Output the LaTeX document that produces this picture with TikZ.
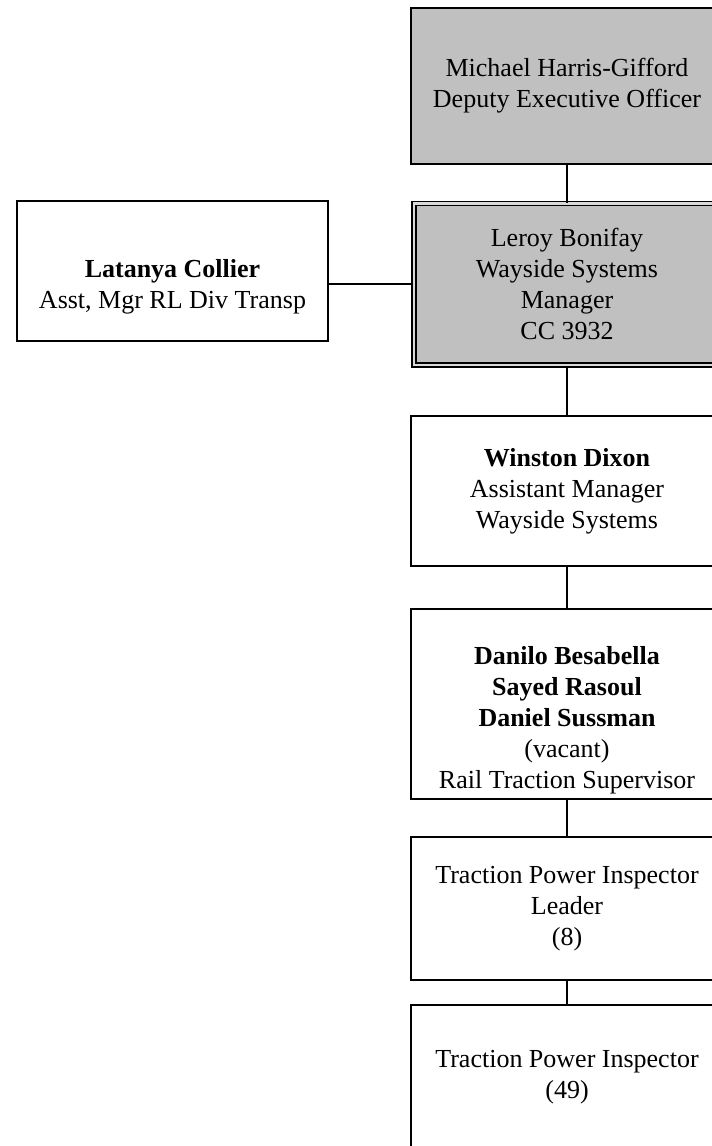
\documentclass[tikz,border=0pt]{standalone}
\usepackage{fontspec}
\setmainfont{Liberation Serif}
\usetikzlibrary{positioning}
\definecolor{boxgray}{HTML}{C0C0C0}
\definecolor{linecolor}{HTML}{000000}

\begin{document}
\begin{tikzpicture}[
    x=1pt, y=-1pt,
    every node/.style={font=\fontsize{26}{31}\selectfont, align=center},
    unit/.style={draw=linecolor, line width=2pt, minimum width=312pt, inner sep=0pt, anchor=north},
    head/.style={unit, fill=boxgray},
    lead/.style={unit, fill=boxgray, line width=1.5pt, double=boxgray!60, double distance=2.5pt},
    wire/.style={draw=linecolor, line width=2pt},
]
\useasboundingbox (0,0) rectangle (712,1146);

% ---------------- the chain, top down
\node[head, minimum height=156pt] (deo) at (567,7) {Michael Harris-Gifford\\Deputy Executive Officer};
\node[lead, minimum width=306.5pt, minimum height=161.5pt] (wsm) at (567,202.75) {Leroy Bonifay\\Wayside Systems\\Manager\\CC 3932};
\node[unit, minimum height=150pt] (asm) at (567,415) {\textbf{Winston Dixon}\\Assistant Manager\\Wayside Systems};
\node[unit, minimum height=190pt] (rts) at (567,608) {\rule{0pt}{50pt}\textbf{Danilo Besabella}\\\textbf{Sayed Rasoul}\\\textbf{Daniel Sussman}\\(vacant)\\Rail Traction Supervisor};
\node[unit, minimum height=143pt] (tpl) at (567,836) {Traction Power Inspector\\Leader\\(8)};
\node[unit, minimum height=144pt] (tpi) at (567,1004) {Traction Power Inspector\\(49)};

% ---------------- the side box
\node[unit, minimum width=311pt, minimum height=140pt, anchor=north west] (adt) at (16,200) {\rule{0pt}{50pt}\textbf{Latanya Collier}\\Asst, Mgr RL Div Transp};

% ---------------- lines
\draw[wire] (deo.south) -- (wsm.north);
\draw[wire] (wsm.south) -- (asm.north);
\draw[wire] (asm.south) -- (rts.north);
\draw[wire] (rts.south) -- (tpl.north);
\draw[wire] (tpl.south) -- (tpi.north);
\draw[wire] (wsm.west) -- (wsm.west -| adt.east);
\end{tikzpicture}
\end{document}
